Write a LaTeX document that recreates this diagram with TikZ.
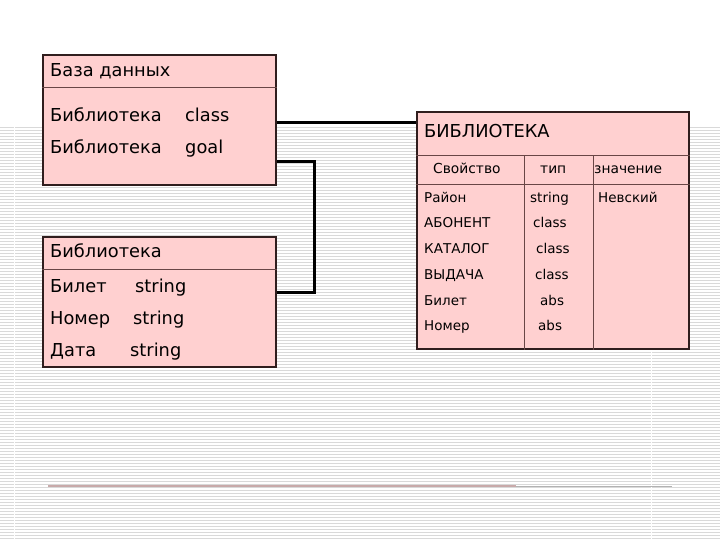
\documentclass[tikz,border=0pt]{standalone}
\usepackage{fontspec}
\setmainfont{DejaVu Sans}
\usetikzlibrary{positioning}
\definecolor{pinkbox}{RGB}{255,208,208}
\definecolor{boxline}{RGB}{48,30,30}
\definecolor{sepline}{RGB}{105,70,70}
\definecolor{rulepink}{RGB}{200,170,170}

\begin{document}
\begin{tikzpicture}[x=1pt, y=-1pt,
  font=\fontsize{17.8}{21}\selectfont,
  stripe/.style={draw=black!15, line width=1.1pt},
  tbl/.style={rectangle, draw=boxline, line width=2pt, fill=pinkbox, anchor=north west, inner sep=0pt},
  sep/.style={draw=sepline, line width=1pt},
  txt/.style={anchor=base west, inner sep=0pt},
  small/.style={txt, font=\fontsize{13.5}{16}\selectfont},
  head/.style={txt, font=\fontsize{13.8}{16}\selectfont},
  link/.style={draw=black, line width=3pt}
]
\fill[white] (0,0) rectangle (720,540);
\useasboundingbox (0,0) rectangle (720,540);
\foreach \y in {127.5,130.5,...,539} \draw[stripe] (0,\y) -- (720,\y);
\draw[white, line width=1pt] (14,126) -- (14,540);
\draw[white, line width=1pt] (651,126) -- (651,540);
\draw[draw=rulepink, line width=1.8pt] (48,486) -- (516,486);
\draw[draw=black!30, line width=1pt] (516,486) -- (672,486);

\node[tbl, minimum width=233pt, minimum height=130pt] (db)   at (42,54)  {};
\node[tbl, minimum width=233pt, minimum height=130pt] (card) at (42,236) {};
\node[tbl, minimum width=272pt, minimum height=237pt] (big)  at (416,111) {};

\draw[sep] (db.west |- 0,88) -- (db.east |- 0,88);
\draw[sep] (card.west |- 0,269) -- (card.east |- 0,269);
\draw[sep] (big.west |- 0,156) -- (big.east |- 0,156);
\draw[sep] (big.west |- 0,185) -- (big.east |- 0,185);
\draw[sep] (524,156) -- (big.south -| 524,0);
\draw[sep] (593,156) -- (big.south -| 593,0);

\node[txt] (dbT)  at (50,77)  {База данных};
\node[txt] (dbA)  at (50,122) {Библиотека};
\node[txt] (dbAt) at (185,122) {class};
\node[txt] (dbB)  at (50,154) {Библиотека};
\node[txt] (dbBt) at (185,154) {goal};

\node[txt] (cdT)  at (50,257) {Библиотека};
\node[txt] (cdA)  at (50,292) {Билет};
\node[txt] (cdAt) at (135,292) {string};
\node[txt] (cdB)  at (50,324) {Номер};
\node[txt] (cdBt) at (133,324) {string};
\node[txt] (cdC)  at (50,356) {Дата};
\node[txt] (cdCt) at (130,356) {string};

\node[txt] (bgT) at (424,138) {БИБЛИОТЕКА};
\node[head] (hdA) at (433,174) {Свойство};
\node[head] (hdB) at (540,174) {тип};
\node[head] (hdC) at (594,174) {значение};

\node[small] (r1) at (424,203) {Район};
\node[small] (r2) at (424,228) {АБОНЕНТ};
\node[small] (r3) at (424,253) {КАТАЛОГ};
\node[small] (r4) at (424,279) {ВЫДАЧА};
\node[small] (r5) at (424,305) {Билет};
\node[small] (r6) at (424,330) {Номер};
\node[small] (t1) at (530,203) {string};
\node[small] (t2) at (533,228) {class};
\node[small] (t3) at (536,253) {class};
\node[small] (t4) at (535,279) {class};
\node[small] (t5) at (540,305) {abs};
\node[small] (t6) at (538,330) {abs};
\node[small] (v1) at (598,203) {Невский};

\draw[link] (db.east |- 0,122.5) -- (big.west |- 0,122.5);
\draw[link] (db.east |- 0,162) -- (314,162) |- (card.east |- 0,292);
\end{tikzpicture}
\end{document}
